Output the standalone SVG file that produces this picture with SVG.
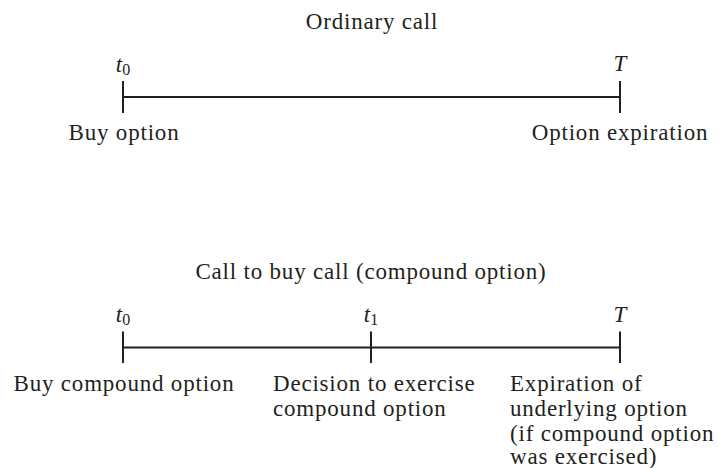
<svg xmlns="http://www.w3.org/2000/svg" width="719" height="468" viewBox="0 0 719 468">
<style>
text{font-family:"Liberation Serif","Times New Roman",serif;font-size:23px;fill:#231f20;letter-spacing:0.8px}
.m{text-anchor:middle}
.v{font-style:italic;letter-spacing:0}
.s{font-size:16px;font-style:normal}
.ln{stroke:#231f20;stroke-width:2;fill:none}
</style>
<rect width="719" height="468" fill="#fff"/>
<g id="title1"><text class="m" x="372" y="29">Ordinary call</text></g>
<g id="connectors">
<path class="ln" d="M123,97H620M123,81V113M620,81V113"/>
<path class="ln" d="M123,347.5H620M123,331.5V363M371,331.5V363M620,331.5V363"/>
</g>
<g id="n-t0-top"><text class="m v" x="123" y="72">t<tspan class="s" dy="3">0</tspan></text>
<text class="m" x="124" y="140">Buy option</text></g>
<g id="n-T-top"><text class="m v" x="620" y="71">T</text>
<text class="m" x="620" y="140">Option expiration</text></g>
<g id="title2"><text class="m" x="371" y="279">Call to buy call (compound option)</text></g>
<g id="n-t0-bot"><text class="m v" x="123" y="322">t<tspan class="s" dy="3">0</tspan></text>
<text class="m" x="124" y="391">Buy compound option</text></g>
<g id="n-t1-bot"><text class="m v" x="371" y="322">t<tspan class="s" dy="3">1</tspan></text>
<text x="273" y="391">Decision to exercise</text>
<text x="273" y="416">compound option</text></g>
<g id="n-T-bot"><text class="m v" x="620" y="321.5">T</text>
<text x="510" y="391">Expiration of</text>
<text x="510" y="416">underlying option</text>
<text x="510" y="440.5">(if compound option</text>
<text x="510" y="464">was exercised)</text></g>
</svg>
